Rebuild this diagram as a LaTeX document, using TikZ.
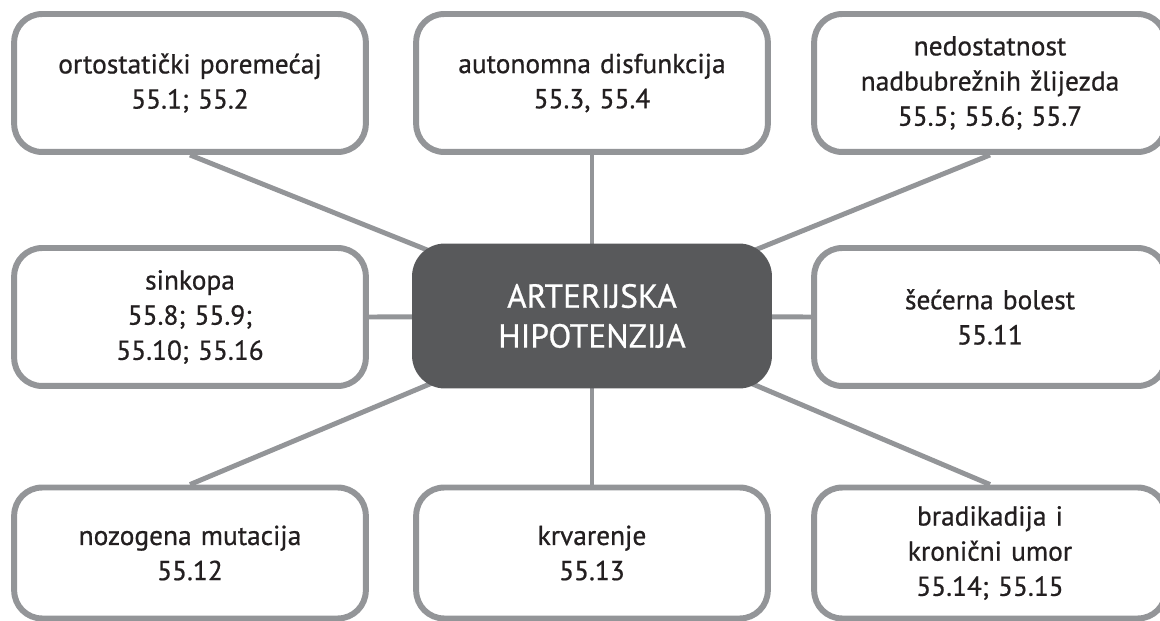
\documentclass[tikz,border=0pt]{standalone}
\usepackage{fontspec}
\setmainfont{PT Sans}
\newfontfamily\causefont{PT Sans}[FakeBold=0.7]
\usetikzlibrary{positioning,backgrounds}
\definecolor{rim}{HTML}{939598}
\definecolor{hubfill}{HTML}{58595B}
\definecolor{ink}{HTML}{231F20}

\begin{document}
\begin{tikzpicture}[x=0.02cm, y=-0.02cm,
    cause/.style={rectangle, draw=rim, fill=white, line width=3.4pt,
        rounded corners=0.56cm, minimum width=7.02cm, minimum height=2.76cm,
        text width=6.8cm, align=center, text=ink,
        font=\causefont\fontsize{15.6}{20}\selectfont},
    lowcause/.style={cause, minimum height=2.62cm},
    hub/.style={rectangle, fill=hubfill, rounded corners=0.66cm,
        minimum width=7.2cm, minimum height=2.9cm, text=white,
        align=center, font=\causefont\fontsize{19}{22.7}\selectfont},
    line/.style={draw=rim, line width=2.8pt}]

    \useasboundingbox (0,0) rectangle (1160,621);

    % ====== Centre ======
    \node [hub] (hub) at (592,316) {ARTERIJSKA\\HIPOTENZIJA};

    % ====== Top row ======
    \node [cause] (orto) at (190,83)
        {ortostatički poremećaj\\55.1; 55.2};
    \node [cause] (auto) at (592,83)
        {autonomna disfunkcija\\55.3, 55.4};
    \node [cause, minimum width=6.96cm] (nadb) at (990,83)
        {nedostatnost\\nadbubrežnih žlijezda\\55.5; 55.6; 55.7};

    % ====== Middle row ======
    \node [cause] (sink) at (190,317)
        {sinkopa\\55.8; 55.9;\\55.10; 55.16};
    \node [cause, minimum width=6.96cm] (secer) at (990,317)
        {šećerna bolest\\55.11};

    % ====== Bottom row ======
    \node [lowcause] (nozo) at (190,553)
        {nozogena mutacija\\55.12};
    \node [lowcause] (krv) at (592,553)
        {krvarenje\\55.13};
    \node [lowcause, minimum width=6.96cm] (brad) at (990,553)
        {bradikadija i\\kronični umor\\55.14; 55.15};

    % ====== Lines ======
    \begin{pgfonlayer}{background}
    \path [line] (orto.south)  -- (hub.center);
    \path [line] (auto.south)  -- (hub.center);
    \path [line] (nadb.south)  -- (hub.center);
    \path [line] (sink.east)   -- (hub.center);
    \path [line] (secer.west)  -- (hub.center);
    \path [line] (nozo.north)  -- (hub.center);
    \path [line] (krv.north)   -- (hub.center);
    \path [line] (brad.north)  -- (hub.center);
    \end{pgfonlayer}
\end{tikzpicture}
\end{document}
